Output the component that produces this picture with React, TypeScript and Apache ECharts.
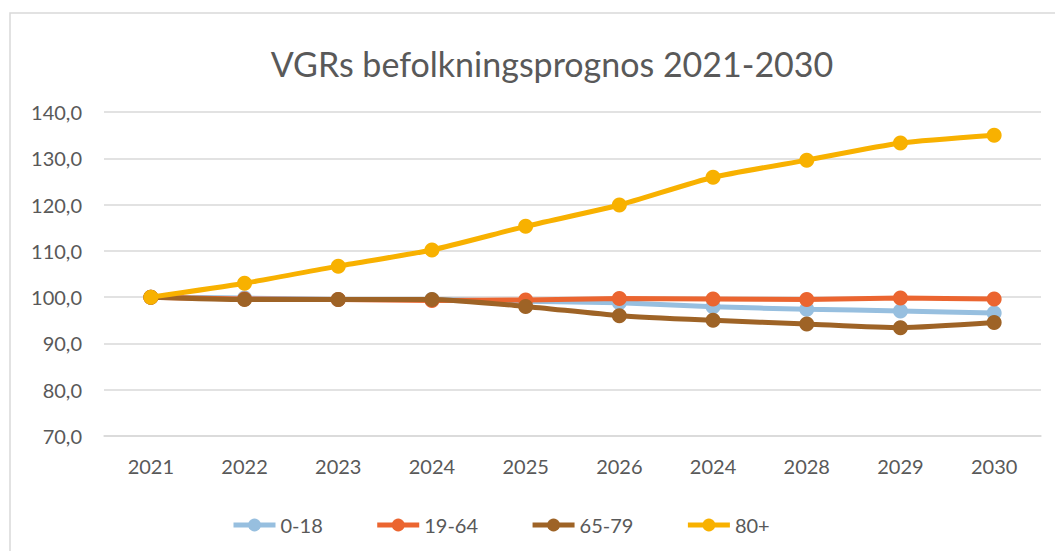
import React, { useEffect, useRef } from "react";
import * as echarts from "echarts";

const categories = ["2021", "2022", "2023", "2024", "2025", "2026", "2024", "2028", "2029", "2030"];
const s0_18 = [100.0, 99.8, 99.5, 99.5, 99.1, 98.8, 97.9, 97.4, 97.0, 96.6];
const s19_64 = [100.0, 99.6, 99.5, 99.3, 99.4, 99.7, 99.6, 99.5, 99.8, 99.6];
const s65_79 = [100.0, 99.5, 99.5, 99.5, 98.0, 96.0, 95.0, 94.2, 93.4, 94.5];
const s80 = [100.0, 103.0, 106.7, 110.2, 115.3, 119.9, 125.9, 129.6, 133.3, 135.0];
const seriesNames = ["0-18", "19-64", "65-79", "80+"];
const colors = ["#97BFDF", "#EB6530", "#9E6326", "#F8B100"];
const title = "VGRs befolkningsprognos 2021-2030";

const FONT = "Lato";
const TXT = "#595959";

export default function App() {
  const ref = useRef<HTMLDivElement>(null);
  useEffect(() => {
    if (!ref.current) return;
    const chart = echarts.init(ref.current, undefined, { renderer: "svg" });
    const data = [s0_18, s19_64, s65_79, s80];
    chart.setOption({
      animation: false,
      backgroundColor: "#ffffff",
      title: {
        text: title,
        left: 547,
        textAlign: "center",
        top: 41,
        textStyle: { fontFamily: FONT, fontSize: 34, fontWeight: "normal", color: TXT },
      },
      graphic: [
        {
          type: "rect",
          shape: { x: 10, y: 13, width: 1100, height: 600 },
          style: { fill: "none", stroke: "#D9D9D9", lineWidth: 1.5 },
          silent: true,
        },
      ],
      legend: {
        left: 226,
        top: 510,
        itemWidth: 42,
        itemHeight: 16,
        itemGap: 52,
        lineStyle: { width: 5 },
        textStyle: { fontFamily: FONT, fontSize: 20, color: TXT },
        data: seriesNames,
      },
      grid: { left: 104, right: 14, top: 112, bottom: 115, containLabel: false },
      xAxis: {
        type: "category",
        data: categories,
        boundaryGap: true,
        axisLine: { show: true, lineStyle: { color: "#D9D9D9", width: 1.5 } },
        axisTick: { show: false },
        axisLabel: { fontFamily: FONT, fontSize: 20, color: TXT, margin: 20 },
      },
      yAxis: {
        type: "value",
        min: 70,
        max: 140,
        interval: 10,
        axisLine: { show: false },
        axisTick: { show: false },
        splitLine: { lineStyle: { color: "#D9D9D9", width: 1.5 } },
        axisLabel: {
          fontFamily: FONT,
          fontSize: 20,
          color: TXT,
          margin: 22,
          formatter: (v: number) => v.toFixed(1).replace(".", ","),
        },
      },
      series: seriesNames.map((name, i) => ({
        name,
        type: "line",
        data: data[i],
        smooth: 0.2,
        symbol: "circle",
        symbolSize: 15,
        lineStyle: { width: 5, color: colors[i] },
        itemStyle: { color: colors[i] },
        z: 2 + i,
      })),
    });
    return () => chart.dispose();
  }, []);
  return (
    <div
      ref={ref}
      style={{ position: "fixed", left: 0, top: 0, width: 1055, height: 551 }}
    />
  );
}
